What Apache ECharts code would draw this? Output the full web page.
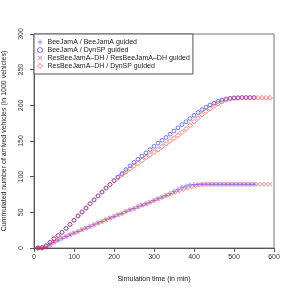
<!DOCTYPE html>
<html><head><meta charset="utf-8">
<script src="https://cdn.jsdelivr.net/npm/echarts@6/dist/echarts.min.js"></script>
<style>html,body{margin:0;padding:0;background:#fff}#c{width:291px;height:291px}</style>
</head><body><div id="c"></div>
<script>
const seriesNames = [
  'BeeJamA / BeeJamA guided',
  'BeeJamA / DynSP guided',
  'ResBeeJamA\u2013DH / ResBeeJamA\u2013DH guided',
  'ResBeeJamA\u2013DH / DynSP guided'
];
const blueTimes = [];
for (let t = 10; t <= 550; t += 10) blueTimes.push(t);
const redTimes = [];
for (let t = 10; t <= 590; t += 10) redTimes.push(t);

const bjBjValues = [0,0,1,4.5,8,11,13.5,16,18.5,21, 23,25.5,28,30,32.5,35,37,39.5,42,44,
  46.5,48.5,51,53.5,55.5,58,60,62,64,66.5, 69,71,73.5,76.5,79.5,82.5,85,87,88.5,89,
  89.5,89.5,89.5,89.5,89.5,89.5,89.5,89.5,89.5,89.5, 89.5,89.5,89.5,89.5,89.5];
const bjDynValues = [0,0.5,3,8,13,17.5,22,27.5,33,39, 45,50.5,56,62,67.5,73,78.5,84,89,94.5,
  99.5,104.5,110,115,120,124.5,129,133.5,138,142.5, 147,151,155,159.5,164,168.5,173,177,181.5,186,
  190,194,197.5,200.5,203,205.5,207.5,209,210,210.5, 210.5,211,211,211,211];
const resResValues = [0,0,1,4.5,8,11,13.5,16,18.5,21, 23,25.5,28,30,32.5,35,37,39.5,42,44,
  46.5,48.5,51,53.5,55.5,58,60,62,64,66.5, 69,71,73.5,75,77.5,79.5,81.5,83.5,85,86.5,
  88,89,89.5,89.5,89.5,89.5,89.5,89.5,89.5,89.5, 89.5,89.5,89.5,89.5,89.5,89.5,89.5,89.5,89.5];
const resDynValues = [0,0.5,3,8,13,17.5,22,27.5,33,39, 45,50.5,56,62,67.5,73,78.5,84,89,94,
  98.5,103,107,111,115,119,123,127,130.5,134.5, 138,142,146,150,154,158,162.5,167,172,177,
  182,187,191.5,195.5,199,202.5,205,207.5,209,210, 210.5,210.5,210.5,210.5,210.5,210.5,210.5,210.5,210.5];

const xTicks = [0,100,200,300,400,500,600];
const yTicks = [0,50,100,150,200,250,300];

const pair = (ts, vs) => ts.map((t, i) => [t, vs[i]]);
const PLUS = 'path://M4,0H6V4H10V6H6V10H4V6H0V4H4Z';
const CROSS = 'path://M0,1L1,0L5,4L9,0L10,1L6,5L10,9L9,10L5,6L1,10L0,9L4,5Z';
const FONT = 'Liberation Sans, Arial, sans-serif';
const BLUE_FILL = 'rgba(70,70,255,0.8)';
const BLUE_LINE = 'rgba(40,40,255,0.8)';
const RED_FILL = 'rgba(255,40,40,0.85)';
const RED_LINE = 'rgba(255,40,40,0.8)';

const chart = echarts.init(document.getElementById('c'), null, {renderer: 'canvas'});
chart.setOption({
  animation: false,
  backgroundColor: '#fff',
  grid: {left: 34, top: 34, width: 240, height: 214, containLabel: false, outerBoundsMode: 'none',
         show: true, borderColor: '#777', borderWidth: 1, backgroundColor: 'transparent'},
  legend: {
    orient: 'vertical', left: 34, top: 34,
    padding: [4, 3, 4, 3], itemGap: 0, itemWidth: 5, itemHeight: 5, itemLabelGap: 5,
    borderColor: '#555', borderWidth: 1, backgroundColor: '#fff',
    textStyle: {fontFamily: FONT, fontSize: 7, color: '#222', lineHeight: 8},
    data: [
      {name: seriesNames[0], icon: PLUS, itemStyle: {color: BLUE_FILL, borderWidth: 0}},
      {name: seriesNames[1], icon: 'circle', itemStyle: {color: 'rgba(0,0,0,0)', borderColor: BLUE_LINE, borderWidth: 1}},
      {name: seriesNames[2], icon: CROSS, itemStyle: {color: RED_FILL, borderWidth: 0}},
      {name: seriesNames[3], icon: 'diamond', itemStyle: {color: 'rgba(0,0,0,0)', borderColor: RED_LINE, borderWidth: 1}}
    ]
  },
  xAxis: {
    type: 'value', min: xTicks[0], max: xTicks[xTicks.length - 1], interval: 100,
    name: 'Simulation time (in min)', nameLocation: 'middle', nameGap: 28,
    nameTextStyle: {fontFamily: FONT, fontSize: 7, color: '#222'},
    axisLine: {show: true, onZero: false, lineStyle: {color: '#555', width: 1}},
    axisTick: {show: true, inside: false, length: 4, lineStyle: {color: '#555'}},
    axisLabel: {fontFamily: FONT, fontSize: 7, color: '#333', margin: 6},
    splitLine: {show: false}
  },
  yAxis: {
    type: 'value', min: yTicks[0], max: yTicks[yTicks.length - 1], interval: 50,
    name: 'Cummulated number of arrived vehicles (in 1000 vehicles)', nameLocation: 'middle', nameGap: 26, nameRotate: 90,
    nameTextStyle: {fontFamily: FONT, fontSize: 7, color: '#222'},
    axisLine: {show: true, onZero: false, lineStyle: {color: '#555', width: 1}},
    axisTick: {show: true, inside: false, length: 4, lineStyle: {color: '#555'}},
    axisLabel: {fontFamily: FONT, fontSize: 7, color: '#333', margin: 9, rotate: 90},
    splitLine: {show: false}
  },
  series: [
    {name: seriesNames[0], type: 'scatter', symbol: PLUS, symbolSize: 5,
     itemStyle: {color: BLUE_FILL}, data: pair(blueTimes, bjBjValues)},
    {name: seriesNames[1], type: 'scatter', symbol: 'circle', symbolSize: 3.8,
     itemStyle: {color: 'rgba(0,0,0,0)', borderColor: BLUE_LINE, borderWidth: 1}, data: pair(blueTimes, bjDynValues)},
    {name: seriesNames[2], type: 'scatter', symbol: CROSS, symbolSize: 4.5,
     itemStyle: {color: RED_FILL}, data: pair(redTimes, resResValues)},
    {name: seriesNames[3], type: 'scatter', symbol: 'diamond', symbolSize: 4.8,
     itemStyle: {color: 'rgba(0,0,0,0)', borderColor: RED_LINE, borderWidth: 1}, data: pair(redTimes, resDynValues)}
  ]
});
</script></body></html>
